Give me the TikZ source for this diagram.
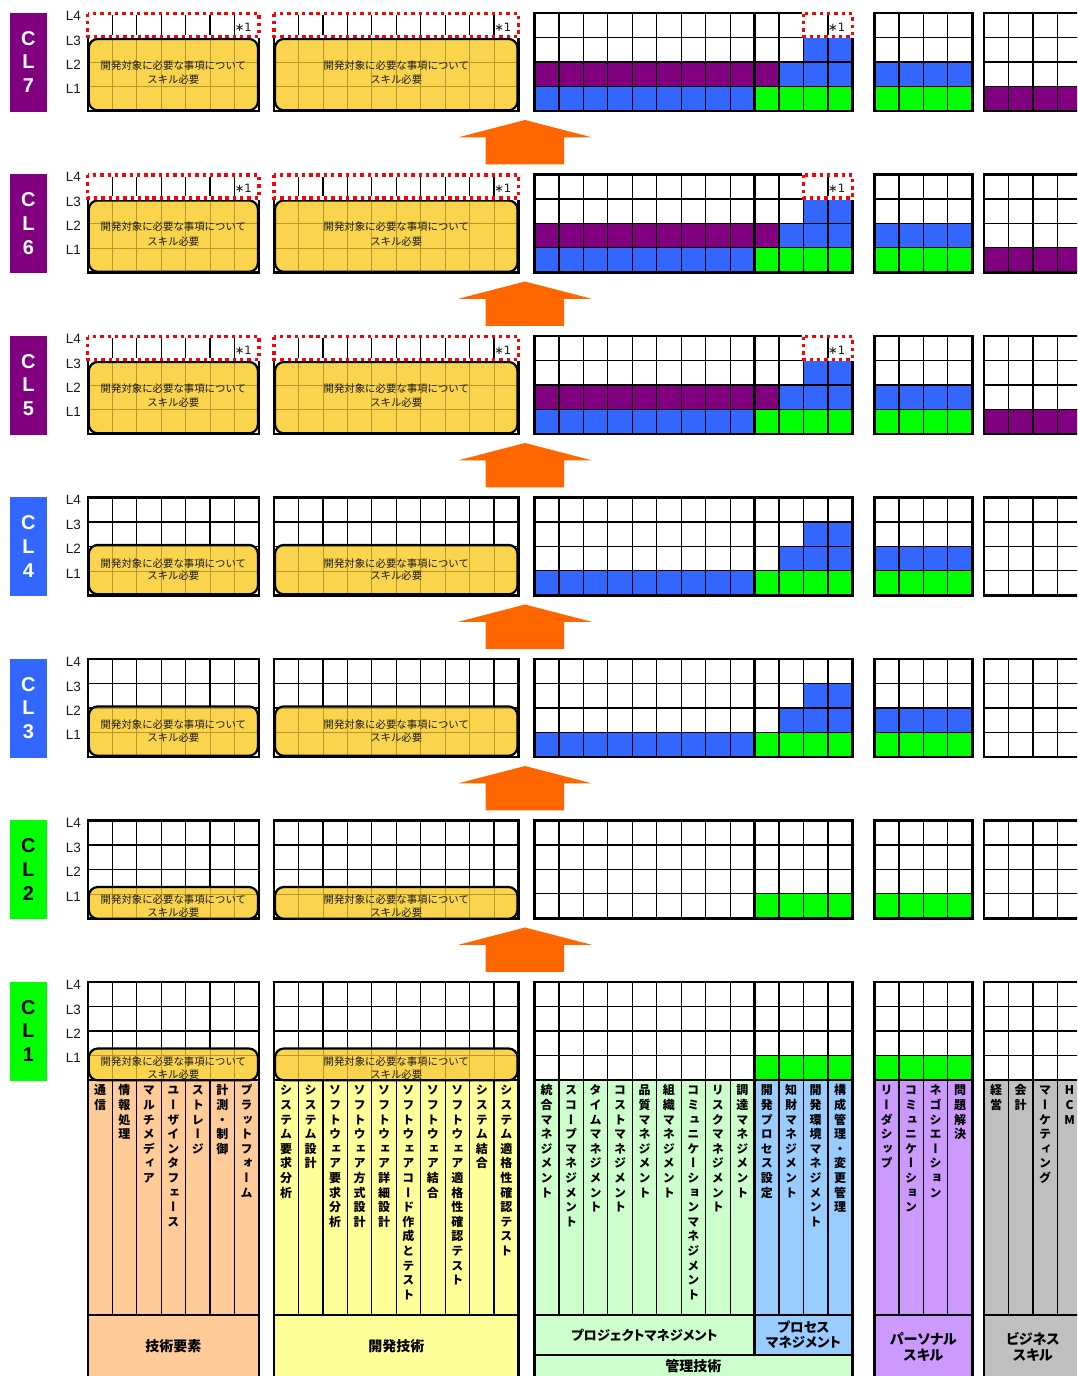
\documentclass[tikz,border=0pt]{standalone}
\usepackage{fontspec}
\setmainfont{Liberation Sans}
\newfontfamily\jp{Noto Sans CJK JP}
\newfontfamily\jpp[RawFeature=+palt]{Noto Sans CJK JP}
\newfontfamily\tatefont[RawFeature=+vert]{Noto Sans CJK JP}
\newfontfamily\djv{DejaVu Sans}
\definecolor{cpurple}{HTML}{800080}
\definecolor{cblue}{HTML}{3366FF}
\definecolor{cgreen}{HTML}{00FF00}
\definecolor{corange}{HTML}{FF6600}
\definecolor{cyel}{HTML}{F9D44C}
\definecolor{cyelline}{HTML}{B8982E}
\definecolor{cpeach}{HTML}{FFCC99}
\definecolor{clyellow}{HTML}{FFFF99}
\definecolor{clgreen}{HTML}{CCFFCC}
\definecolor{clblue}{HTML}{99CCFF}
\definecolor{clav}{HTML}{CC99FF}
\definecolor{cgray}{HTML}{C0C0C0}
\definecolor{ctext}{HTML}{1A1A1A}

\ExplSyntaxOn
\NewDocumentCommand\tate{m}
 {
  \vbox
   {
    \baselineskip=14.6pt \lineskiplimit=-100pt \lineskip=0pt
    \exp_args:No \tl_map_inline:nn {#1} { \hbox_to_wd:nn {14pt} { \hss \rule{0pt}{11pt} ##1 \hss } }
   }
 }
\ExplSyntaxOff

\def\cw{24.45}
\def\gxa{87.8}
\def\gxb{274}
\def\gxc{534.5}
\def\gxd{874.5}
\def\gxe{984}

\newcommand\gridat[3]{%
  \pgfmathtruncatemacro\nmi{#2-1}%
  \foreach \i in {1,...,\nmi}{\draw[gridthin] ({#1+\i*\cw},{#3}) -- ({#1+\i*\cw},{#3+4*\cw});}%
  \foreach \j in {1,2,3}{\draw[gridthin] ({#1},{#3+\j*\cw}) -- ({#1+#2*\cw},{#3+\j*\cw});}%
  \draw[gridthick] ({#1},{#3}) rectangle ({#1+#2*\cw},{#3+4*\cw});%
}
\newcommand\cellrow[6]{\fill[#6] ({#1+(#3-1)*\cw},{#2+(4-#5)*\cw}) rectangle ({#1+#4*\cw},{#2+(5-#5)*\cw});}
\newcommand\blockgrids[1]{%
  \gridat{\gxa}{7}{#1}\gridat{\gxb}{10}{#1}\gridat{\gxc}{13}{#1}%
  \draw[gridthick] ({\gxc+9*\cw},{#1}) -- ({\gxc+9*\cw},{#1+4*\cw});%
  \gridat{\gxd}{4}{#1}\gridat{\gxe}{4}{#1}}
\newcommand\highfills[1]{%
  \cellrow{\gxc}{#1}{1}{9}{1}{cblue}\cellrow{\gxc}{#1}{10}{13}{1}{cgreen}%
  \cellrow{\gxc}{#1}{1}{10}{2}{cpurple}\cellrow{\gxc}{#1}{11}{13}{2}{cblue}%
  \cellrow{\gxc}{#1}{12}{13}{3}{cblue}%
  \cellrow{\gxd}{#1}{1}{4}{1}{cgreen}\cellrow{\gxd}{#1}{1}{4}{2}{cblue}%
  \cellrow{\gxe}{#1}{1}{4}{1}{cpurple}}
\newcommand\midfills[1]{%
  \cellrow{\gxc}{#1}{1}{9}{1}{cblue}\cellrow{\gxc}{#1}{10}{13}{1}{cgreen}%
  \cellrow{\gxc}{#1}{11}{13}{2}{cblue}\cellrow{\gxc}{#1}{12}{13}{3}{cblue}%
  \cellrow{\gxd}{#1}{1}{4}{1}{cgreen}\cellrow{\gxd}{#1}{1}{4}{2}{cblue}}
\newcommand\lowfills[1]{%
  \cellrow{\gxc}{#1}{10}{13}{1}{cgreen}\cellrow{\gxd}{#1}{1}{4}{1}{cgreen}}

% name, x0, n, top, ytop, ybot, dy, bskip
\newcommand\ybox[8]{%
  \begin{scope}
    \clip[rounded corners=9pt] ({#2+1},{#5}) rectangle ({#2+#3*\cw-1},{#6});
    \fill[cyel] ({#2},{#5}) rectangle ({#2+#3*\cw},{#6});
    \pgfmathtruncatemacro\nmi{#3-1}
    \foreach \i in {1,...,\nmi}{\draw[yline] ({#2+\i*\cw},{#5}) -- ({#2+\i*\cw},{#6});}
    \foreach \j in {1,2,3}{\draw[yline] ({#2},{#4+\j*\cw}) -- ({#2+#3*\cw},{#4+\j*\cw});}
    \node[ytext,font=\jp\fontsize{10.4}{#8}\selectfont] (#1) at ({#2+#3*\cw/2},{(#5+#6)/2+(#7)}) {開発対象に必要な事項について\\スキル必要};
  \end{scope}
  \draw[ybord,rounded corners=9pt] ({#2+1},{#5}) rectangle ({#2+#3*\cw-1},{#6});}
% name, x1, x2, T
\newcommand\reddot[4]{%
  \draw[white,line width=3.4pt] ({#2},{#4+0.5}) rectangle ({#3},{#4+\cw-1});
  \draw[reddots] ({#2},{#4+0.5}) rectangle ({#3},{#4+\cw-1});
  \node[startext,anchor=east] (#1) at ({#3-7},{#4+\cw/2+2}) {∗1};}
\newcommand\highyellow[2]{%
  \ybox{ya#1}{\gxa}{7}{#2}{#2+\cw+1.5}{#2+4*\cw-0.5}{-2}{14.5}%
  \ybox{yb#1}{\gxb}{10}{#2}{#2+\cw+1.5}{#2+4*\cw-0.5}{-2}{14.5}%
  \reddot{ra#1}{\gxa}{\gxa+7*\cw}{#2}%
  \reddot{rb#1}{\gxb}{\gxb+10*\cw}{#2}%
  \reddot{rc#1}{\gxc+11*\cw}{\gxc+13*\cw}{#2}}
\newcommand\midyellow[2]{%
  \ybox{ya#1}{\gxa}{7}{#2}{#2+2*\cw-1.5}{#2+4*\cw-1}{0}{12.5}%
  \ybox{yb#1}{\gxb}{10}{#2}{#2+2*\cw-1.5}{#2+4*\cw-1}{0}{12.5}}
\newcommand\lowyellow[2]{%
  \ybox{ya#1}{\gxa}{7}{#2}{#2+66.5}{#2+4*\cw+0.5}{3.4}{12.6}%
  \ybox{yb#1}{\gxb}{10}{#2}{#2+66.5}{#2+4*\cw+0.5}{3.4}{12.6}}
% level, T, bg, fg
\newcommand\clbox[4]{%
  \fill[#3] (10,{#2-0.5}) rectangle (46.7,{#2+98.5});
  \node[cltext,text=#4] (cl#1c) at (28.4,{#2+25.5}) {C};
  \node[cltext,text=#4] (cl#1l) at (28.4,{#2+49}) {L};
  \node[cltext,text=#4] (cl#1n) at (28.4,{#2+73}) {#1};
  \node[ltext] (lv#1d) at (73.5,{#2+2.5}) {L4};
  \node[ltext] (lv#1c) at (73.5,{#2+\cw+3}) {L3};
  \node[ltext] (lv#1b) at (73.5,{#2+2*\cw+2.5}) {L2};
  \node[ltext] (lv#1a) at (73.5,{#2+3*\cw+2.5}) {L1};}
\newcommand\uparr[1]{%
  \fill[corange] (525,{#1+107}) -- (591.7,{#1+124.3}) -- (564,{#1+124.3}) -- (564,{#1+151.3}) -- (485.7,{#1+151.3}) -- (485.7,{#1+124.3}) -- (458.3,{#1+124.3}) -- cycle;}

\begin{document}
\begin{tikzpicture}[x=1pt,y=-1pt,
  gridthin/.style={black,line width=1.2pt},
  gridthick/.style={black,line width=2.4pt},
  yline/.style={cyelline,line width=0.7pt},
  ybord/.style={black,line width=2.2pt},
  ytext/.style={text=ctext,align=center,inner sep=0pt},
  reddots/.style={red,line width=3.2pt,dash pattern=on 3.4pt off 3.9pt},
  startext/.style={font=\djv\fontsize{11.5}{12}\selectfont,text=ctext,inner sep=0pt},
  cltext/.style={font=\bfseries\fontsize{20}{22}\selectfont,inner sep=0pt},
  ltext/.style={font=\fontsize{13.5}{14}\selectfont,text=ctext,inner sep=0pt},
  tatelabel/.style={font=\tatefont\bfseries\fontsize{12}{14.6}\selectfont,anchor=north,inner sep=0pt},
  catlabel/.style={font=\jpp\bfseries\fontsize{14}{15.5}\selectfont,align=center,inner sep=0pt},
]
\useasboundingbox (0,0) rectangle (1077,1376);
\clip (0,0) rectangle (1077,1376);
\fill[white] (0,0) rectangle (1077,1376);

% ---- CL1 label area ----
\pgfmathsetmacro\gbot{982+4*\cw}
\fill[cpeach] (\gxa,\gbot) rectangle ({\gxa+7*\cw},1380);
\fill[clyellow] (\gxb,\gbot) rectangle ({\gxb+10*\cw},1380);
\fill[clgreen] (\gxc,\gbot) rectangle ({\gxc+9*\cw},1355);
\fill[clblue] ({\gxc+9*\cw},\gbot) rectangle ({\gxc+13*\cw},1355);
\fill[clgreen] (\gxc,1355) rectangle ({\gxc+13*\cw},1380);
\fill[clav] (\gxd,\gbot) rectangle ({\gxd+4*\cw},1380);
\fill[cgray] (\gxe,\gbot) rectangle ({\gxe+4*\cw},1380);
\foreach \i in {1,...,6} \draw[gridthin] ({\gxa+\i*\cw},\gbot) -- ({\gxa+\i*\cw},1315);
\foreach \i in {1,...,9} \draw[gridthin] ({\gxb+\i*\cw},\gbot) -- ({\gxb+\i*\cw},1315);
\foreach \i in {1,...,12} \draw[gridthin] ({\gxc+\i*\cw},\gbot) -- ({\gxc+\i*\cw},1315);
\foreach \i in {1,2,3} \draw[gridthin] ({\gxd+\i*\cw},\gbot) -- ({\gxd+\i*\cw},1315);
\foreach \i in {1,2,3} \draw[gridthin] ({\gxe+\i*\cw},\gbot) -- ({\gxe+\i*\cw},1315);
\draw[gridthick] (\gxa,1315) -- ({\gxa+7*\cw},1315) (\gxa,982) -- (\gxa,1380) ({\gxa+7*\cw},982) -- ({\gxa+7*\cw},1380);
\draw[gridthick] (\gxb,1315) -- ({\gxb+10*\cw},1315) (\gxb,982) -- (\gxb,1380) ({\gxb+10*\cw},982) -- ({\gxb+10*\cw},1380);
\draw[gridthick] (\gxc,1315) -- ({\gxc+13*\cw},1315) (\gxc,1355) -- ({\gxc+13*\cw},1355) (\gxc,982) -- (\gxc,1380) ({\gxc+13*\cw},982) -- ({\gxc+13*\cw},1380) ({\gxc+9*\cw},982) -- ({\gxc+9*\cw},1355);
\draw[gridthick] (\gxd,1315) -- ({\gxd+4*\cw},1315) (\gxd,982) -- (\gxd,1380) ({\gxd+4*\cw},982) -- ({\gxd+4*\cw},1380);
\draw[gridthick] (\gxe,1315) -- ({\gxe+4*\cw},1315) (\gxe,982) -- (\gxe,1380) ({\gxe+4*\cw},982) -- ({\gxe+4*\cw},1380);

\foreach \lab [count=\i] in {通信,情報処理,マルチメディア,ユーザインタフェース,ストレージ,計測・制御,プラットフォーム}
  \node[tatelabel] (ta\i) at ({\gxa+(\i-0.5)*\cw},1083.6) {\tate{\lab}};
\foreach \lab [count=\i] in {システム要求分析,システム設計,ソフトウェア要求分析,ソフトウェア方式設計,ソフトウェア詳細設計,ソフトウェアコード作成とテスト,ソフトウェア結合,ソフトウェア適格性確認テスト,システム結合,システム適格性確認テスト}
  \node[tatelabel] (tb\i) at ({\gxb+(\i-0.5)*\cw},1083.6) {\tate{\lab}};
\foreach \lab [count=\i] in {統合マネジメント,スコープマネジメント,タイムマネジメント,コストマネジメント,品質マネジメント,組織マネジメント,コミュニケーションマネジメント,リスクマネジメント,調達マネジメント,開発プロセス設定,知財マネジメント,開発環境マネジメント,構成管理・変更管理}
  \node[tatelabel] (tc\i) at ({\gxc+(\i-0.5)*\cw},1083.6) {\tate{\lab}};
\foreach \lab [count=\i] in {リーダシップ,コミュニケーション,ネゴシエーション,問題解決}
  \node[tatelabel] (td\i) at ({\gxd+(\i-0.5)*\cw},1083.6) {\tate{\lab}};
\foreach \lab [count=\i] in {経営,会計,マーケティング,HCM}
  \node[tatelabel] (te\i) at ({\gxe+(\i-0.5)*\cw},1083.6) {\tate{\lab}};

\node[catlabel] (cat1) at ({\gxa+3.5*\cw},1346) {技術要素};
\node[catlabel] (cat2) at ({\gxb+5*\cw},1346) {開発技術};
\node[catlabel,font=\jpp\bfseries\fontsize{13.2}{15}\selectfont] (cat3) at ({\gxc+4.5*\cw},1335) {プロジェクトマネジメント};
\node[catlabel,font=\jpp\bfseries\fontsize{13.5}{15}\selectfont] (cat4) at ({\gxc+11*\cw},1335) {プロセス\\マネジメント};
\node[catlabel] (cat5) at ({\gxc+6.5*\cw},1366) {管理技術};
\node[catlabel,font=\jpp\bfseries\fontsize{14}{16}\selectfont] (cat6) at ({\gxd+2*\cw},1347) {パーソナル\\スキル};
\node[catlabel,font=\jpp\bfseries\fontsize{14}{16}\selectfont] (cat7) at ({\gxe+2*\cw},1347) {ビジネス\\スキル};

% ---- levels ----
\highfills{13}\blockgrids{13}\highyellow{7}{13}\clbox{7}{13}{cpurple}{white}
\highfills{174.5}\blockgrids{174.5}\highyellow{6}{174.5}\clbox{6}{174.5}{cpurple}{white}
\highfills{336}\blockgrids{336}\highyellow{5}{336}\clbox{5}{336}{cpurple}{white}
\midfills{497.5}\blockgrids{497.5}\midyellow{4}{497.5}\clbox{4}{497.5}{cblue}{white}
\midfills{659}\blockgrids{659}\midyellow{3}{659}\clbox{3}{659}{cblue}{white}
\lowfills{820.5}\blockgrids{820.5}\lowyellow{2}{820.5}\clbox{2}{820.5}{cgreen}{black}
\lowfills{982}\blockgrids{982}\lowyellow{1}{982}\clbox{1}{982}{cgreen}{black}

\uparr{13}\uparr{174.5}\uparr{336}\uparr{497.5}\uparr{659}\uparr{820.5}
\end{tikzpicture}
\end{document}
